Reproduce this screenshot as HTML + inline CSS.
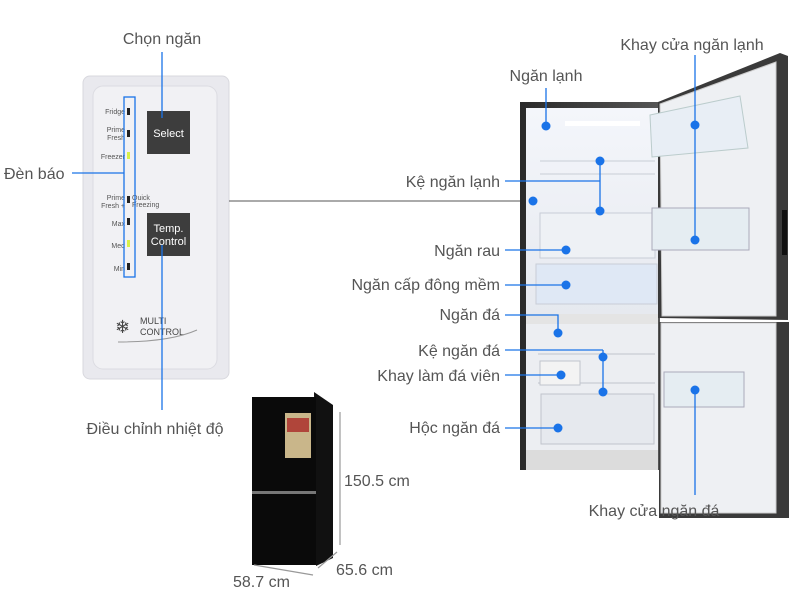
<!DOCTYPE html>
<html><head><meta charset="utf-8"><style>
html,body{margin:0;padding:0;background:#fff;}
svg{display:block}
text{font-family:"Liberation Sans",sans-serif;fill:#555;}
</style></head><body>
<svg width="800" height="600" viewBox="0 0 800 600">
<defs>
<linearGradient id="cab" x1="0" x2="1"><stop offset="0" stop-color="#2a2a2a"/><stop offset="1" stop-color="#555"/></linearGradient>
<linearGradient id="inside" x1="0" y1="0" x2="0" y2="1"><stop offset="0" stop-color="#f4f6fb"/><stop offset="1" stop-color="#e6e9ef"/></linearGradient>
</defs>
<rect x="83" y="76" width="146" height="303" rx="7" fill="#e9e9ee" stroke="#d8d8de"/>
<rect x="93" y="86" width="124" height="283" rx="10" fill="#f1f1f4" stroke="#dcdce2"/>
<rect x="147" y="111" width="43" height="43" fill="#3d3d3d"/>
<text x="168.5" y="137" font-size="11" text-anchor="middle" style="fill:#fff">Select</text>
<rect x="147" y="213" width="43" height="43" fill="#3d3d3d"/>
<text x="168.5" y="232" font-size="11" text-anchor="middle" style="fill:#fff">Temp.</text>
<text x="168.5" y="245" font-size="11" text-anchor="middle" style="fill:#fff">Control</text>
<g font-size="7" text-anchor="end">
<text x="125" y="114">Fridge</text>
<text x="125" y="132">Prime</text><text x="125" y="140">Fresh</text>
<text x="125" y="159">Freezer</text>
<text x="125" y="200">Prime</text><text x="125" y="208">Fresh +</text>
<text x="125" y="226">Max</text>
<text x="125" y="248">Med</text>
<text x="125" y="271">Min</text>
</g>
<text x="132" y="200" font-size="7">Quick</text><text x="132" y="207" font-size="7">Freezing</text>
<g fill="#222"><rect x="127" y="108" width="3" height="7"/><rect x="127" y="130" width="3" height="7"/><rect x="127" y="196" width="3" height="7"/><rect x="127" y="218" width="3" height="7"/><rect x="127" y="263" width="3" height="7"/></g>
<rect x="127" y="152" width="3" height="7" fill="#d8f04a"/><rect x="127" y="240" width="3" height="7" fill="#d8f04a"/>
<text x="115" y="333" font-size="18" style="fill:#444">❄</text>
<text x="140" y="324" font-size="9" style="fill:#444">MULTI</text>
<text x="140" y="335" font-size="9" style="fill:#444">CONTROL</text>
<path d="M118 342 Q170 342 197 330" stroke="#999" fill="none"/>
<g stroke="#1a73e8" stroke-width="1.3" fill="none">
<rect x="124" y="97" width="11" height="180"/>
<line x1="72" y1="173" x2="124" y2="173"/>
<line x1="162" y1="52" x2="162" y2="118"/>
<line x1="162" y1="245" x2="162" y2="410"/>
</g>
<line x1="229" y1="201" x2="533" y2="201" stroke="#555" stroke-width="1"/>
<rect x="520" y="102" width="140" height="368" fill="url(#cab)"/>
<rect x="526" y="108" width="132" height="206" fill="url(#inside)"/>
<rect x="565" y="121" width="75" height="5" fill="#fff"/>
<g stroke="#c8cdd6" fill="none">
<line x1="540" y1="161" x2="655" y2="161"/><line x1="540" y1="174" x2="655" y2="174"/>
<rect x="540" y="213" width="115" height="45" fill="#eef1f5"/>
<rect x="536" y="264" width="121" height="40" fill="#dfe8f5"/>
</g>
<rect x="526" y="314" width="132" height="10" fill="#e4e4e4"/>
<rect x="526" y="324" width="132" height="126" fill="#eceef2"/>
<g stroke="#c0c4cc" fill="none">
<line x1="538" y1="354" x2="655" y2="354"/><line x1="538" y1="383" x2="655" y2="383"/>
<rect x="541" y="394" width="113" height="50" fill="#e6e9ee"/>
<rect x="540" y="361" width="40" height="24" fill="#f3f3f3"/>
</g>
<rect x="526" y="450" width="132" height="20" fill="#dcdcdc"/>
<polygon points="658,102 780,53 788,56 788,320 658,318" fill="#3a3a3a"/>
<polygon points="660,104 776,62 776,316 662,316" fill="#eef0f3" stroke="#ccc"/>
<polygon points="650,115 740,96 748,148 652,157" fill="#e8eef5" stroke="#bcc"/>
<rect x="652" y="208" width="97" height="42" fill="#e5edf2" stroke="#aab"/>
<rect x="659" y="322" width="130" height="196" fill="#3a3a3a"/>
<rect x="661" y="323" width="115" height="190" fill="#eef0f3" stroke="#ccc"/>
<rect x="664" y="372" width="80" height="35" fill="#e5edf2" stroke="#aab"/>
<rect x="782" y="210" width="5" height="45" fill="#111"/>
<g stroke="#1a73e8" stroke-width="1.3" fill="none">
<line x1="546" y1="88" x2="546" y2="126"/>
<polyline points="505,181 600,181"/><line x1="600" y1="161" x2="600" y2="211"/>
<line x1="505" y1="250" x2="566" y2="250"/>
<line x1="505" y1="285" x2="566" y2="285"/>
<polyline points="505,315 558,315 558,333"/>
<polyline points="505,350 603,350"/><line x1="603" y1="350" x2="603" y2="392"/>
<line x1="505" y1="375" x2="561" y2="375"/>
<line x1="505" y1="428" x2="558" y2="428"/>
<line x1="695" y1="55" x2="695" y2="240"/>
<line x1="695" y1="390" x2="695" y2="495"/>
</g>
<g fill="#1a73e8">
<circle cx="546" cy="126" r="4.5"/><circle cx="600" cy="161" r="4.5"/><circle cx="600" cy="211" r="4.5"/>
<circle cx="533" cy="201" r="4.5"/><circle cx="566" cy="250" r="4.5"/><circle cx="566" cy="285" r="4.5"/>
<circle cx="558" cy="333" r="4.5"/><circle cx="603" cy="357" r="4.5"/><circle cx="603" cy="392" r="4.5"/>
<circle cx="561" cy="375" r="4.5"/><circle cx="558" cy="428" r="4.5"/>
<circle cx="695" cy="125" r="4.5"/><circle cx="695" cy="240" r="4.5"/><circle cx="695" cy="390" r="4.5"/>
</g>
<g font-size="16">
<text x="162" y="44" text-anchor="middle">Chọn ngăn</text>
<text x="4" y="179">Đèn báo</text>
<text x="155" y="434" text-anchor="middle">Điều chỉnh nhiệt độ</text>
<text x="546" y="81" text-anchor="middle">Ngăn lạnh</text>
<text x="692" y="50" text-anchor="middle">Khay cửa ngăn lạnh</text>
<text x="500" y="187" text-anchor="end">Kệ ngăn lạnh</text>
<text x="500" y="256" text-anchor="end">Ngăn rau</text>
<text x="500" y="290" text-anchor="end">Ngăn cấp đông mềm</text>
<text x="500" y="320" text-anchor="end">Ngăn đá</text>
<text x="500" y="356" text-anchor="end">Kệ ngăn đá</text>
<text x="500" y="381" text-anchor="end">Khay làm đá viên</text>
<text x="500" y="433" text-anchor="end">Hộc ngăn đá</text>
<text x="654" y="516" text-anchor="middle">Khay cửa ngăn đá</text>
<text x="344" y="486">150.5 cm</text>
<text x="336" y="575">65.6 cm</text>
<text x="233" y="587">58.7 cm</text>
</g>
<polygon points="314,392 333,405 333,558 316,566" fill="#111"/>
<rect x="252" y="397" width="64" height="168" fill="#0a0a0a"/>
<rect x="285" y="413" width="26" height="45" fill="#c9b68a"/>
<rect x="287" y="418" width="22" height="14" fill="#b0453a"/>
<rect x="252" y="491" width="64" height="3" fill="#777"/>
<g stroke="#999" stroke-width="1.2" fill="none">
<line x1="340" y1="412" x2="340" y2="545"/>
<line x1="318" y1="568" x2="337" y2="552"/>
<line x1="254" y1="565" x2="313" y2="575"/>
</g>
</svg>
</body></html>
